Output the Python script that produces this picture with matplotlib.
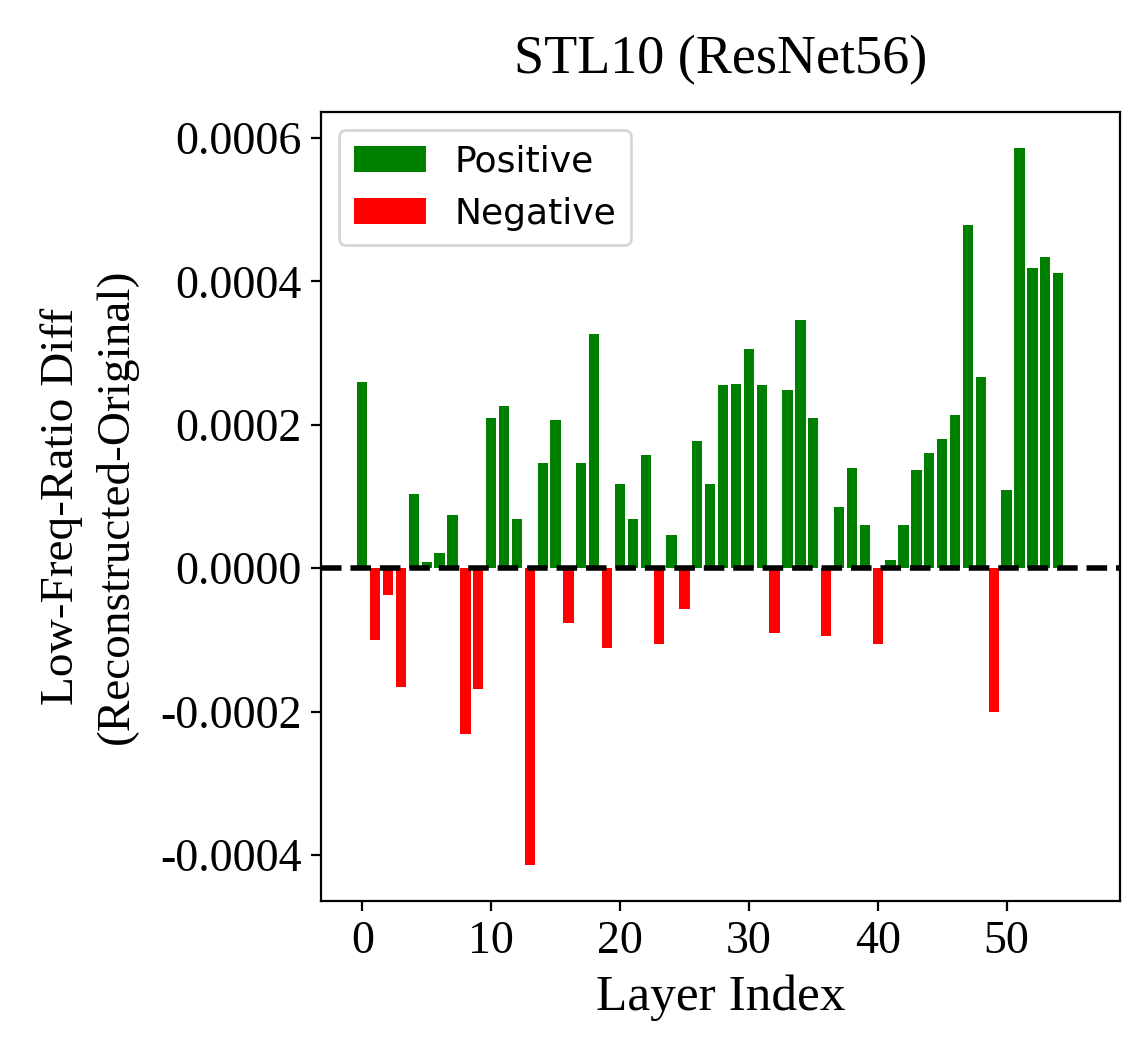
import matplotlib
matplotlib.use("Agg")
import matplotlib.pyplot as plt
import numpy as np

# per-layer low-frequency ratio difference (reconstructed - original)
layer_idx = np.arange(55)
diff = [
    2.60e-4, -1.00e-4, -0.37e-4, -1.66e-4, 1.03e-4, 0.08e-4, 0.21e-4, 0.74e-4,
    -2.31e-4, -1.69e-4, 2.09e-4, 2.26e-4, 0.69e-4, -4.14e-4, 1.46e-4, 2.06e-4,
    -0.77e-4, 1.46e-4, 3.26e-4, -1.11e-4, 1.17e-4, 0.69e-4, 1.58e-4, -1.06e-4,
    0.46e-4, -0.57e-4, 1.77e-4, 1.17e-4, 2.55e-4, 2.57e-4, 3.06e-4, 2.55e-4,
    -0.91e-4, 2.49e-4, 3.46e-4, 2.09e-4, -0.94e-4, 0.86e-4, 1.40e-4, 0.60e-4,
    -1.05e-4, 0.11e-4, 0.60e-4, 1.37e-4, 1.60e-4, 1.80e-4, 2.14e-4, 4.78e-4,
    2.66e-4, -2.00e-4, 1.09e-4, 5.86e-4, 4.18e-4, 4.34e-4, 4.12e-4,
]
diff = np.array(diff)

serif = ["Liberation Serif", "DejaVu Serif"]

fig = plt.figure(figsize=(5.66, 5.315), dpi=200)
ax = fig.add_axes([0.2836, 0.1524, 0.7058, 0.7422])

pos = diff >= 0
ax.bar(layer_idx[pos], diff[pos], color="green", label="Positive")
ax.bar(layer_idx[~pos], diff[~pos], color="red", label="Negative")
ax.axhline(0, color="black", linestyle="--", linewidth=2)

ax.set_xlim(-3.2, 58.8)
ax.set_yticks([-0.0004, -0.0002, 0.0, 0.0002, 0.0004, 0.0006])
ax.set_yticklabels(["%.4f" % v for v in ax.get_yticks()], family=serif, fontsize=16.5)
ax.set_xticks([0, 10, 20, 30, 40, 50])
ax.set_xticklabels(["0", "10", "20", "30", "40", "50"], family=serif, fontsize=16.5)

ax.set_title("STL10 (ResNet56)", family=serif, fontsize=19.5, pad=14)
ax.set_xlabel("Layer Index", family=serif, fontsize=18.5, labelpad=4)
ax.set_ylabel("Low-Freq-Ratio Diff\n(Reconstructed-Original)", family=serif,
              fontsize=17, linespacing=1.35, labelpad=8)
ax.legend(loc="upper left", fontsize=13)

fig.savefig("out.png", dpi=200)
